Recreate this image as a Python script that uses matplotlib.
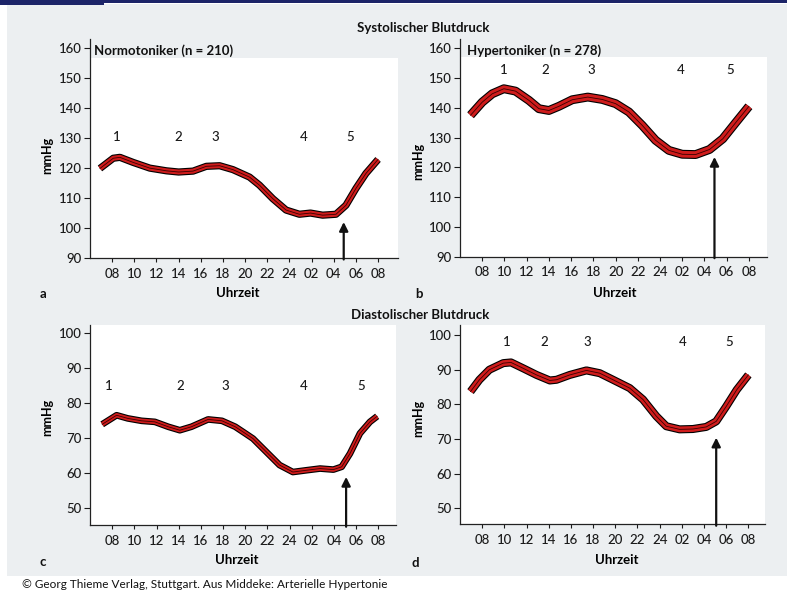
import numpy as np
import matplotlib
matplotlib.use("Agg")
import matplotlib.pyplot as plt
from matplotlib.patches import Rectangle

plt.rcParams['font.family'] = ['Lato', 'DejaVu Sans']

# hours since midnight of day 1 (24 = midnight, 32 = 08 next day)
tick_hours = [8, 10, 12, 14, 16, 18, 20, 22, 24, 26, 28, 30, 32]
tick_labels = ['08', '10', '12', '14', '16', '18', '20', '22', '24', '02', '04', '06', '08']

# a: systolic, normotensive
sys_norm_h = [6.9, 8.1, 8.7, 9.9, 11.4, 12.9, 14.0, 15.3, 16.5, 17.7, 18.9, 20.4,
              21.3, 22.5, 23.7, 24.9, 25.9, 27.0, 28.2, 29.1, 30.0, 30.9, 32.0]
sys_norm_v = [119.9, 123.3, 123.6, 121.9, 120.0, 119.1, 118.7, 119.0, 120.6, 120.8, 119.5, 117.0,
              114.3, 109.8, 106.0, 104.6, 105.0, 104.3, 104.6, 107.6, 113.2, 118.2, 122.9]

# b: systolic, hypertensive
sys_hyp_h = [6.95, 8.0, 8.9, 9.95, 11.0, 12.2, 13.1, 14.0, 14.9, 16.1, 17.5, 18.8,
             20.0, 21.2, 22.4, 23.6, 24.8, 26.0, 27.2, 28.45, 29.65, 30.85, 32.0]
sys_hyp_v = [137.5, 141.9, 144.7, 146.4, 145.6, 142.5, 139.7, 139.1, 140.5, 142.7, 143.6, 142.8,
             141.4, 138.6, 134.1, 129.1, 125.7, 124.4, 124.3, 126.0, 129.6, 135.2, 140.5]

# c: diastolic, normotensive
dia_norm_h = [7.1, 8.4, 9.4, 10.65, 11.85, 13.05, 14.1, 15.15, 16.65, 17.9, 19.1, 20.0,
              20.7, 21.9, 23.1, 24.3, 25.5, 26.75, 27.95, 28.7, 29.45, 30.35, 31.25, 31.9]
dia_norm_v = [73.9, 76.5, 75.6, 74.9, 74.6, 73.2, 72.2, 73.2, 75.3, 74.9, 73.2, 71.3,
              69.8, 66.0, 62.2, 60.2, 60.7, 61.2, 60.9, 61.7, 65.5, 71.3, 74.6, 76.2]

# d: diastolic, hypertensive
dia_hyp_h = [6.95, 7.75, 8.65, 9.9, 10.6, 11.7, 12.9, 14.1, 14.7, 15.9, 17.4, 18.6,
             19.8, 21.3, 22.5, 23.7, 24.6, 25.8, 27.0, 28.2, 29.1, 30.0, 30.95, 32.0]
dia_hyp_v = [83.7, 87.1, 90.0, 91.9, 92.1, 90.4, 88.5, 86.9, 87.1, 88.5, 89.8, 89.0,
             87.1, 84.7, 81.4, 76.6, 73.7, 72.8, 72.9, 73.5, 75.1, 79.4, 84.2, 88.5]

# phase numbers 1-5 (hour positions) per panel
phase_labels = ['1', '2', '3', '4', '5']
phase_a = [8.45, 14.0, 17.3, 25.3, 29.5]
phase_b = [9.9, 13.7, 17.8, 25.9, 30.3]
phase_c = [7.7, 14.1, 18.2, 25.3, 30.5]
phase_d = [10.2, 13.6, 17.5, 26.1, 30.3]

W, H = 787, 591
fig = plt.figure(figsize=(W / 100, H / 100), dpi=100, facecolor='white')

# page background and top bar
fig.patches.append(Rectangle((7 / W, 1 - 576 / H), 1, (576 - 4) / H, transform=fig.transFigure,
                             facecolor='#eceff1', edgecolor='none', zorder=-10))
fig.patches.append(Rectangle((0, 1 - 3 / H), 1, 3 / H, transform=fig.transFigure,
                             facecolor='#1c2468', edgecolor='none', zorder=-5))
fig.patches.append(Rectangle((0, 1 - 5 / H), 104 / W, 5 / H, transform=fig.transFigure,
                             facecolor='#1c2468', edgecolor='none', zorder=-5))


def panel(rect, h, v, ylim, yticks, xmax, white_top, lw, arrow_tip, arrow_x,
          phases, phase_y, ylab_xy, xlab_xy, title=None, title_xy=None):
    ax = fig.add_axes(rect)
    ax.set_facecolor('none')
    ax.set_xlim(6, xmax)
    ax.set_ylim(*ylim)
    ax.add_patch(Rectangle((6, ylim[0]), xmax - 6, white_top - ylim[0],
                           facecolor='white', edgecolor='none', zorder=0))
    for s in ['top', 'right']:
        ax.spines[s].set_visible(False)
    for s in ['left', 'bottom']:
        ax.spines[s].set_color('#222222')
        ax.spines[s].set_linewidth(0.9)
    ax.set_xticks(tick_hours)
    ax.set_xticklabels(tick_labels)
    ax.set_yticks(yticks)
    ax.tick_params(axis='x', length=3, width=0.8, pad=4, labelsize=9.5, colors='#1a1a1a')
    ax.tick_params(axis='y', length=4, width=0.8, pad=2, labelsize=9.5, colors='#1a1a1a')
    for t in ax.get_xticklabels() + ax.get_yticklabels():
        t.set_fontweight('medium')

    # band-like curve
    ax.plot(h, v, color='black', lw=lw, solid_capstyle='butt', zorder=3)
    ax.plot(h, v, color='#cf1c1c', lw=lw - 1.6, solid_capstyle='butt', zorder=4)
    ax.plot(h, v, color='#3a0000', lw=0.6, zorder=5)

    ax.annotate('', xy=(arrow_x, arrow_tip), xytext=(arrow_x, ylim[0] - 0.5),
                arrowprops=dict(arrowstyle='-|>', color='#111111', lw=1.6,
                                mutation_scale=13, shrinkA=0, shrinkB=0),
                annotation_clip=False, zorder=6)

    for lab, px in zip(phase_labels, phases):
        ax.text(px, phase_y, lab, ha='center', va='center', fontsize=9.5,
                fontweight='medium', color='#1a1a1a')

    ax.set_ylabel('mmHg', fontsize=9, fontweight='bold')
    ax.yaxis.set_label_coords(*ylab_xy)
    ax.set_xlabel('Uhrzeit', fontsize=9.5, fontweight='bold')
    ax.xaxis.set_label_coords(*xlab_xy)
    if title:
        ax.text(title_xy[0], title_xy[1], title, ha='left', va='center',
                fontsize=9.5, fontweight='bold', color='#111111')
    return ax


panel([90 / W, 1 - 258 / H, 308 / W, 218.7 / H], sys_norm_h, sys_norm_v, (90, 163),
      range(90, 161, 10), 33.8, 156.7, 5.2, 102.0, 28.9, phase_a, 130.5,
      (-0.12, 0.47), (0.48, -0.133), 'Normotoniker (n = 210)', (6.4, 159.2))
panel([460 / W, 1 - 256.7 / H, 306.7 / W, 217.4 / H], sys_hyp_h, sys_hyp_v, (90, 163),
      range(90, 161, 10), 33.6, 157.0, 6.4, 123.5, 28.9, phase_b, 152.7,
      (-0.118, 0.436), (0.505, -0.139), 'Hypertoniker (n = 278)', (6.6, 159.2))
panel([90 / W, 1 - 525 / H, 306 / W, 200 / H], dia_norm_h, dia_norm_v, (45, 102.4),
      range(50, 101, 10), 33.6, 102.4, 4.8, 58.8, 29.1, phase_c, 85.0,
      (-0.12, 0.54), (0.48, -0.145), None, None)
panel([460 / W, 1 - 524 / H, 305 / W, 199 / H], dia_hyp_h, dia_hyp_v, (45.5, 102.9),
      range(50, 101, 10), 33.5, 102.9, 5.8, 70.4, 29.1, phase_d, 98.1,
      (-0.118, 0.53), (0.515, -0.151), None, None)

fig.text(423 / W, 1 - 28 / H, 'Systolischer Blutdruck', ha='center', va='center',
         fontsize=9.5, fontweight='bold', color='#111111')
fig.text(420 / W, 1 - 315 / H, 'Diastolischer Blutdruck', ha='center', va='center',
         fontsize=9.5, fontweight='bold', color='#111111')
for lab, (px, py) in zip('abcd', [(43, 294), (419, 294), (43, 562), (415, 563)]):
    fig.text(px / W, 1 - py / H, lab, ha='center', va='center', fontsize=9.5,
             fontweight='bold', color='#111111')
fig.text(22 / W, 1 - 585 / H, '\u00a9 Georg Thieme Verlag, Stuttgart. Aus Middeke: Arterielle Hypertonie',
         ha='left', va='center', fontsize=8.5, color='#111111')

fig.savefig('out.png', dpi=100, facecolor=fig.get_facecolor())
